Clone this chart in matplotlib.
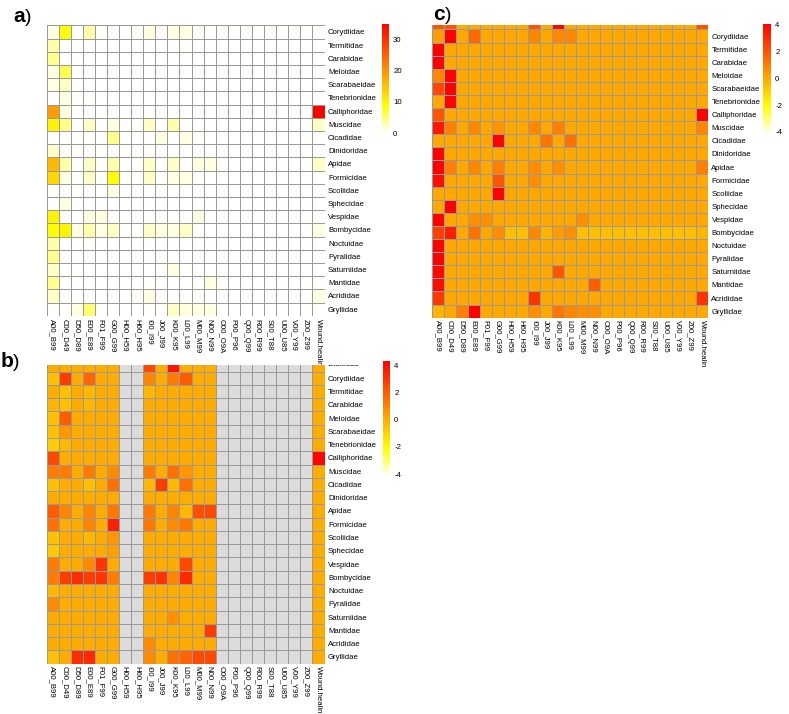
import colorsys
import numpy as np
import matplotlib
matplotlib.use("Agg")
import matplotlib.pyplot as plt
from matplotlib.colors import ListedColormap, Normalize
from matplotlib.cm import ScalarMappable
from matplotlib.transforms import Bbox, TransformedBbox

plt.rcParams['font.family'] = ['Liberation Sans', 'DejaVu Sans']
plt.rcParams['axes.unicode_minus'] = False

nan = float('nan')

codes = ["A00_B99", "C00_D49", "D50_D89", "E00_E89", "F01_F99", "G00_G99",
         "H00_H59", "H60_H95", "I00_I99", "J00_J99", "K00_K95", "L00_L99",
         "M00_M99", "N00_N99", "O00_O9A", "P00_P96", "Q00_Q99", "R00_R99",
         "S00_T88", "U00_U85", "V00_Y99", "Z00_Z99", "Wound.healin"]

families = ["Blattidae", "Corydiidae", "Termitidae", "Carabidae", "Meloidae",
            "Scarabaeidae", "Tenebrionidae", "Calliphoridae", "Muscidae",
            "Cicadidae", "Dinidoridae", "Apidae", "Formicidae", "Scoliidae",
            "Sphecidae", "Vespidae", "Bombycidae", "Noctuidae", "Pyralidae",
            "Saturniidae", "Mantidae", "Acrididae", "Gryllidae"]

# a) counts (Corydiidae .. Gryllidae)
counts_a = [
    [1, 9, 0, 3, 0, 0, 0, 0, 1, 0, 1, 1, 0, 0, 0, 0, 0, 0, 0, 0, 0, 0, 0],
    [3, 0, 0, 0, 0, 0, 0, 0, 0, 0, 0, 0, 0, 0, 0, 0, 0, 0, 0, 0, 0, 0, 0],
    [4, 0, 0, 0, 0, 0, 0, 0, 0, 0, 0, 0, 0, 0, 0, 0, 0, 0, 0, 0, 0, 0, 0],
    [1, 6, 0, 0, 0, 0, 0, 0, 0, 0, 0, 0, 0, 0, 0, 0, 0, 0, 0, 0, 0, 0, 0],
    [1, 2, 0, 0, 0, 0, 0, 0, 0, 0, 0, 0, 0, 0, 0, 0, 0, 0, 0, 0, 0, 0, 0],
    [0, 1, 0, 0, 0, 0, 0, 0, 0, 0, 0, 0, 0, 0, 0, 0, 0, 0, 0, 0, 0, 0, 0],
    [19, 1, 0, 0, 0, 0, 0, 0, 0, 0, 0, 0, 0, 0, 0, 0, 0, 0, 0, 0, 0, 0, 35],
    [10, 4, 0, 2, 0, 1, 0, 0, 2, 0, 3, 0, 0, 0, 0, 0, 0, 0, 0, 0, 0, 0, 2],
    [0, 0, 0, 0, 0, 4, 0, 0, 0, 1, 0, 1, 0, 0, 0, 0, 0, 0, 0, 0, 0, 0, 0],
    [2, 0, 0, 0, 0, 0, 0, 0, 0, 0, 0, 0, 0, 0, 0, 0, 0, 0, 0, 0, 0, 0, 0],
    [16, 3, 0, 2, 0, 3, 0, 0, 2, 0, 2, 0, 1, 1, 0, 0, 0, 0, 0, 0, 0, 0, 2],
    [13, 1, 0, 2, 0, 9, 0, 0, 2, 0, 1, 1, 0, 0, 0, 0, 0, 0, 0, 0, 0, 0, 0],
    [0, 0, 0, 0, 0, 1, 0, 0, 0, 0, 0, 0, 0, 0, 0, 0, 0, 0, 0, 0, 0, 0, 0],
    [0, 1, 0, 0, 0, 0, 0, 0, 0, 0, 0, 0, 0, 0, 0, 0, 0, 0, 0, 0, 0, 0, 0],
    [10, 0, 0, 1, 1, 0, 0, 0, 0, 0, 0, 0, 1, 0, 0, 0, 0, 0, 0, 0, 0, 0, 0],
    [9, 10, 1, 3, 1, 2, 0, 0, 2, 1, 1, 2, 0, 0, 0, 0, 0, 0, 0, 0, 0, 0, 1],
    [3, 0, 0, 0, 0, 0, 0, 0, 0, 0, 0, 0, 0, 0, 0, 0, 0, 0, 0, 0, 0, 0, 0],
    [4, 0, 0, 0, 0, 0, 0, 0, 0, 0, 0, 0, 0, 0, 0, 0, 0, 0, 0, 0, 0, 0, 0],
    [2, 0, 0, 0, 0, 0, 0, 0, 0, 0, 1, 0, 0, 0, 0, 0, 0, 0, 0, 0, 0, 0, 0],
    [4, 0, 0, 0, 0, 0, 0, 0, 0, 0, 0, 0, 0, 1, 0, 0, 0, 0, 0, 0, 0, 0, 0],
    [2, 0, 0, 0, 0, 0, 0, 0, 1, 0, 0, 0, 0, 0, 0, 0, 0, 0, 0, 0, 0, 0, 1],
    [0, 0, 1, 5, 0, 0, 0, 0, 0, 0, 2, 1, 1, 1, 0, 0, 0, 0, 0, 0, 0, 0, 0],
]

N = nan
# b) scaled values, grey = missing (Blattidae .. Gryllidae)
z_b = [
    [0, 0, 0, 0, 0, 0, N, N, 2.5, 0, 3.8, 0, 0, 0, N, N, N, N, N, N, N, N, 0],
    [-0.5, 2.8, 0, 1.8, 0, 0, N, N, 1, 0, 1.2, 2, 0, 0, N, N, N, N, N, N, N, N, 0],
    [0, -0.5, 0, -0.3, 0, 0, N, N, -0.3, 0, 0, 0, 0, 0, N, N, N, N, N, N, N, N, 0],
    [-0.2, -0.5, 0, -0.3, 0, 0, N, N, 0, 0, 0, 0, 0, 0, N, N, N, N, N, N, N, N, 0],
    [-0.5, 2, 0, 0, 0, 0, N, N, 0, 0, 0, 0, 0, 0, N, N, N, N, N, N, N, N, 0],
    [-0.5, 0.5, 0, 0, 0, 0, N, N, 0, 0, 0, 0, 0, 0, N, N, N, N, N, N, N, N, 0],
    [-0.8, -0.3, 0, 0, 0, 0, N, N, 0, 0, 0, 0, 0, 0, N, N, N, N, N, N, N, N, 0],
    [2.5, 0, 0, 0, 0, 0, N, N, 0, 0, 0, 0, 0, 0, N, N, N, N, N, N, N, N, 4.2],
    [1.2, 1.2, 0, 1.2, 0, 0.8, N, N, 1.2, 0, 1.5, 0.5, 0, 0, N, N, N, N, N, N, N, N, 0],
    [-0.5, 0, 0, -0.5, 0, 1.5, N, N, -0.3, 2.8, -0.3, 1.5, 0, 0, N, N, N, N, N, N, N, N, 0],
    [0, 0, 0, 0, 0, 0, N, N, 0, 0, 0, 0, 0, 0, N, N, N, N, N, N, N, N, 0],
    [2, 1, 0, 1, 0, 1.3, N, N, 1.3, 0, 1, -0.3, 2.3, 2.5, N, N, N, N, N, N, N, N, 0],
    [1.5, 0, 0, 1, 0, 3.5, N, N, 1.3, 0, 0.8, 1.3, 0, 0, N, N, N, N, N, N, N, N, 0],
    [-0.5, 0, 0, -0.3, 0, 0.5, N, N, 0, 0, 0, 0, 0, 0, N, N, N, N, N, N, N, N, 0],
    [-0.7, 0, 0, 0, 0, 0.3, N, N, 0, 0, 0, 0, 0, 0, N, N, N, N, N, N, N, N, 0],
    [1.2, 0, 0, 0.8, 3, 0, N, N, 0, 0, 0, 2.5, 0, 0, N, N, N, N, N, N, N, N, 0],
    [1.2, 2.8, 3.2, 2.8, 3, 1.2, N, N, 2.8, 3, 1, 3.3, 0, 0, N, N, N, N, N, N, N, N, 0],
    [-0.3, 0, 0, 0, 0, 0, N, N, 0, 0, 0, 0, 0, 0, N, N, N, N, N, N, N, N, 0],
    [0.8, 0, 0, 0, 0, 0, N, N, 0, 0, 0, 0, 0, 0, N, N, N, N, N, N, N, N, 0],
    [0, 0, 0, 0, 0, 0, N, N, 0, 0, 0.7, 0, 0, 0, N, N, N, N, N, N, N, N, 0],
    [0, 0, 0, 0, 0, 0, N, N, 0, 0, 0, 0, 0, 2.8, N, N, N, N, N, N, N, N, 0],
    [0, 0, 0, 0, 0, 0, N, N, 0.8, 0, 0, 0, 0, 0, N, N, N, N, N, N, N, N, 0],
    [-0.5, 0, 3.2, 3.3, 0, 0, N, N, 0.8, 0, 1.5, 1.8, 2.5, 2.5, N, N, N, N, N, N, N, N, 0],
]

# c) scaled values (Blattidae .. Gryllidae)
z_c = [
    [2, 2, 0, 0, 0, 0, 0, 0, 2, 0, 3.8, 0, 0, 0, 0, 0, 0, 0, 0, 0, 0, 0, 2],
    [0.3, 4, 0, 1.5, 0, 0, 0, 0, 0.8, 0, 0.8, 0.8, 0, 0, 0, 0, 0, 0, 0, 0, 0, 0, 0],
    [4, 0, 0, 0, 0, 0, 0, 0, 0, 0, 0, 0, 0, 0, 0, 0, 0, 0, 0, 0, 0, 0, 0],
    [4, 0, 0, 0, 0, 0, 0, 0, 0, 0, 0, 0, 0, 0, 0, 0, 0, 0, 0, 0, 0, 0, 0],
    [0.8, 4, 0, 0, 0, 0, 0, 0, 0, 0, 0, 0, 0, 0, 0, 0, 0, 0, 0, 0, 0, 0, 0],
    [2.3, 4, 0, 0, 0, 0, 0, 0, 0, 0, 0, 0, 0, 0, 0, 0, 0, 0, 0, 0, 0, 0, 0],
    [0, 4, 0, 0, 0, 0, 0, 0, 0, 0, 0, 0, 0, 0, 0, 0, 0, 0, 0, 0, 0, 0, 0],
    [2, 0, 0, 0, 0, 0, 0, 0, 0, 0, 0, 0, 0, 0, 0, 0, 0, 0, 0, 0, 0, 0, 4],
    [3.5, 1, 0, 0.8, 0, 0.5, 0, 0, 0.8, 0, 1, 0, 0, 0, 0, 0, 0, 0, 0, 0, 0, 0, 0.8],
    [0, 0, 0, 0, 0, 4, 0, 0, 0, 1.2, 0, 1.3, 0, 0, 0, 0, 0, 0, 0, 0, 0, 0, 0],
    [4, 0, 0, 0, 0, 0, 0, 0, 0, 0, 0, 0, 0, 0, 0, 0, 0, 0, 0, 0, 0, 0, 0],
    [4, 1, 0, 0.8, 0, 1, 0, 0, 0.7, 0, 0.6, 0, 0, 0, 0, 0, 0, 0, 0, 0, 0, 0, 1],
    [3.7, 0, 0, 0, 0, 2, 0, 0, 0.6, 0, 0, 0, 0, 0, 0, 0, 0, 0, 0, 0, 0, 0, 0],
    [0, 0, 0, 0, 0, 4, 0, 0, 0, 0, 0, 0, 0, 0, 0, 0, 0, 0, 0, 0, 0, 0, 0],
    [0, 4, 0, 0, 0, 0, 0, 0, 0, 0, 0, 0, 0, 0, 0, 0, 0, 0, 0, 0, 0, 0, 0],
    [4, 0, 0, 0.6, 0.6, 0, 0, 0, 0, 0, 0, 0, 0.6, 0, 0, 0, 0, 0, 0, 0, 0, 0, 0],
    [2.5, 3.3, 0, 1.3, 0, 0.6, -0.5, -0.5, 0.8, -0.3, 0.3, 0.6, -0.5, -0.5, -0.5, -0.5, -0.5, -0.5, -0.5, -0.5, -0.5, -0.5, -0.3],
    [4, 0, 0, 0, 0, 0, 0, 0, 0, 0, 0, 0, 0, 0, 0, 0, 0, 0, 0, 0, 0, 0, 0],
    [4, 0, 0, 0, 0, 0, 0, 0, 0, 0, 0, 0, 0, 0, 0, 0, 0, 0, 0, 0, 0, 0, 0],
    [3.8, 0, 0, 0, 0, 0, 0, 0, 0, 0, 2, 0, 0, 0, 0, 0, 0, 0, 0, 0, 0, 0, 0],
    [3.8, 0, 0, 0, 0, 0, 0, 0, 0, 0, 0, 0, 0, 1.8, 0, 0, 0, 0, 0, 0, 0, 0, 0],
    [2.7, 0, 0, 0, 0, 0, 0, 0, 2.8, 0, 0, 0, 0, 0, 0, 0, 0, 0, 0, 0, 0, 0, 2.8],
    [-0.3, 0, 1, 4, 0, 0, 0, 0, 0.6, 0, 1.2, 0.8, 0.6, 0.6, 0, 0, 0, 0, 0, 0, 0, 0, 0],
]


# rev(heat.colors(n)) as in R
def heat_colors(n):
    j = n // 4
    i = n - j
    cols = [colorsys.hsv_to_rgb(h, 1, 1) for h in np.linspace(0, 1 / 6, i)]
    cols += [colorsys.hsv_to_rgb(1 / 6, s, 1)
             for s in np.linspace(1 - 1 / (2 * j), 1 / (2 * j), j)]
    return cols


cmap = ListedColormap(heat_colors(256)[::-1]).with_extremes(bad='#DCDCDC')

W, H = 789, 714
fig = plt.figure(figsize=(W / 100, H / 100), dpi=100)
FS = 5.6


def px_axes(x0, y0, x1, y1):
    return fig.add_axes([x0 / W, 1 - y1 / H, (x1 - x0) / W, (y1 - y0) / H])


def heatmap(box, data, rows, norm, ytop, cbox, cticks, first_clipped=None):
    ax = px_axes(*box)
    arr = np.ma.masked_invalid(np.array(data, dtype=float))
    nr, nc = arr.shape
    ax.pcolormesh(np.arange(nc + 1), np.arange(nr + 1), arr, cmap=cmap, norm=norm,
                  edgecolors='#9a9a9a', linewidth=0.7)
    ax.set_xlim(0, nc)
    ax.set_ylim(nr, ytop)
    ax.set_xticks(np.arange(nc) + 0.5, codes, rotation=-90, fontsize=FS)
    start = 1 if first_clipped else 0
    ax.set_yticks(np.arange(start, nr) + 0.5, rows[start:], fontsize=FS)
    ax.yaxis.tick_right()
    ax.tick_params(length=0)
    ax.tick_params(axis='x', pad=2)
    ax.tick_params(axis='y', pad=2.5)
    for s in ax.spines.values():
        s.set_visible(False)
    if first_clipped:
        t = fig.text(nc, 0.5, "  " + rows[0], fontsize=FS, va='center', ha='left',
                     transform=ax.transData, clip_on=True)
        t.set_clip_box(TransformedBbox(
            Bbox.from_extents(box[2] / W, 1 - box[3] / H, 1, 1 - box[1] / H),
            fig.transFigure))
    cax = px_axes(*cbox)
    cb = fig.colorbar(ScalarMappable(norm=norm, cmap=cmap), cax=cax, ticks=cticks)
    cb.outline.set_visible(False)
    cax.tick_params(length=0, labelsize=FS, pad=3)
    return ax


# a)
heatmap((46.5, 25.4, 324.5, 315.8), counts_a, families[1:], Normalize(0, 35), 0,
        (382, 24, 389, 133), [0, 10, 20, 30])
# b)
heatmap((46.5, 365, 324.5, 663.6), z_b, families, Normalize(-4.2, 4.3), 0.5,
        (383, 361, 390, 477), [-4, -2, 0, 2, 4], first_clipped=True)
# c)
heatmap((432, 25, 708, 317.7), z_c, families, Normalize(-4.15, 4.05), 0.66,
        (763, 24, 771, 134), [-4, -2, 0, 2, 4], first_clipped=True)

# panel letters
for x, y, s in [(13, 22, 'a'), (1, 367, 'b'), (433, 20, 'c')]:
    fig.text(x / W, 1 - y / H, s, fontsize=15, fontweight='bold', va='baseline')
    fig.text((x + 12) / W, 1 - y / H, ')', fontsize=14, va='baseline')

fig.savefig("out.png", dpi=100)
